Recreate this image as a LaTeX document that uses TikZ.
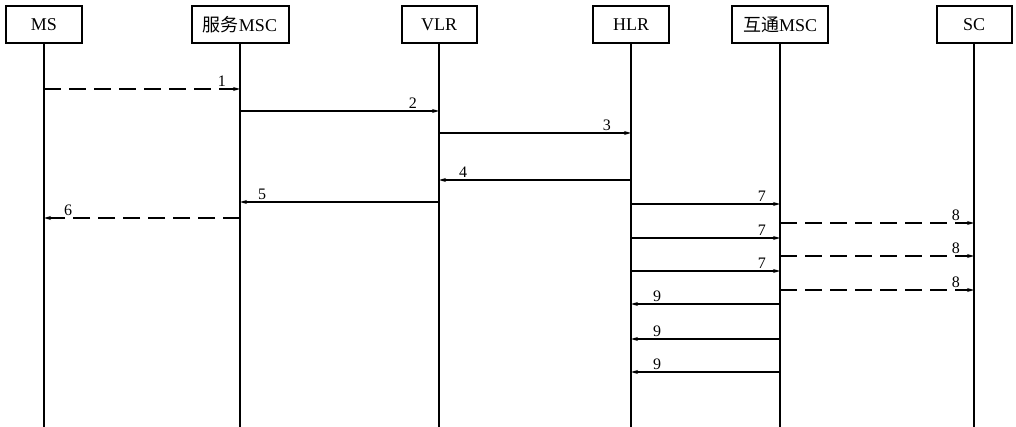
\documentclass[tikz,border=0pt]{standalone}
\usepackage{fontspec}
\setmainfont{Liberation Serif}
\newfontfamily\cjk{Noto Sans CJK SC}
\usetikzlibrary{arrows.meta,positioning}

\begin{document}
\begin{tikzpicture}[x=1pt,y=-1pt,
  ent/.style={draw,line width=2pt,minimum height=37pt,inner sep=0pt,font=\fontsize{18}{20}\selectfont},
  life/.style={line width=1.2pt},
  msg/.style={line width=1.2pt,-{Stealth[length=7pt,width=4pt]}},
  dmsg/.style={msg,dash pattern=on 17pt off 8pt},
  lblr/.style={font=\fontsize{16}{18}\selectfont,anchor=south east,inner sep=1.5pt,xshift=-12pt},
  lbll/.style={font=\fontsize{16}{18}\selectfont,anchor=south west,inner sep=1.5pt,xshift=18pt}]
\useasboundingbox (0,0) rectangle (1016,427);
% entities
\node[ent,minimum width=76pt] (ms) at (44,24.5) {MS};
\node[ent,minimum width=97pt] (smsc) at (240,24.5) {{\cjk 服务}MSC};
\node[ent,minimum width=75pt] (vlr) at (439,24.5) {VLR};
\node[ent,minimum width=76pt] (hlr) at (631,24.5) {HLR};
\node[ent,minimum width=96pt] (imsc) at (780,24.5) {{\cjk 互通}MSC};
\node[ent,minimum width=75pt] (sc) at (974,24.5) {SC};
% lifelines
\coordinate (bot) at (0,427);
\draw[life] (ms.south) -- (ms |- bot);
\draw[life] (smsc.south) -- (smsc |- bot);
\draw[life] (vlr.south) -- (vlr |- bot);
\draw[life] (hlr.south) -- (hlr |- bot);
\draw[life] (imsc.south) -- (imsc |- bot);
\draw[life] (sc.south) -- (sc |- bot);
% message levels
\coordinate (m1) at (0,89);
\coordinate (m2) at (0,111);
\coordinate (m3) at (0,133);
\coordinate (m4) at (0,180);
\coordinate (m5) at (0,202);
\coordinate (m6) at (0,218);
\coordinate (m7a) at (0,204);
\coordinate (m8a) at (0,223);
\coordinate (m7b) at (0,238);
\coordinate (m8b) at (0,256);
\coordinate (m7c) at (0,271);
\coordinate (m8c) at (0,290);
\coordinate (m9a) at (0,304);
\coordinate (m9b) at (0,339);
\coordinate (m9c) at (0,372);
% messages
\draw[dmsg] (ms |- m1) -- (smsc |- m1) node[lblr] {1};
\draw[msg] (smsc |- m2) -- (vlr |- m2) node[lblr,xshift=-8pt] {2};
\draw[msg] (vlr |- m3) -- (hlr |- m3) node[lblr,xshift=-6pt] {3};
\draw[msg] (hlr |- m4) -- (vlr |- m4) node[lbll] {4};
\draw[msg] (vlr |- m5) -- (smsc |- m5) node[lbll,xshift=-2pt] {5};
\draw[dmsg] (smsc |- m6) -- (ms |- m6) node[lbll] {6};
\draw[msg] (hlr |- m7a) -- (imsc |- m7a) node[lblr] {7};
\draw[msg] (hlr |- m7b) -- (imsc |- m7b) node[lblr] {7};
\draw[msg] (hlr |- m7c) -- (imsc |- m7c) node[lblr] {7};
\draw[dmsg] (imsc |- m8a) -- (sc |- m8a) node[lblr] {8};
\draw[dmsg] (imsc |- m8b) -- (sc |- m8b) node[lblr] {8};
\draw[dmsg] (imsc |- m8c) -- (sc |- m8c) node[lblr] {8};
\draw[msg] (imsc |- m9a) -- (hlr |- m9a) node[lbll,xshift=2pt] {9};
\draw[msg] (imsc |- m9b) -- (hlr |- m9b) node[lbll,xshift=2pt] {9};
\draw[msg] (imsc |- m9c) -- (hlr |- m9c) node[lbll,xshift=2pt] {9};
\end{tikzpicture}
\end{document}
